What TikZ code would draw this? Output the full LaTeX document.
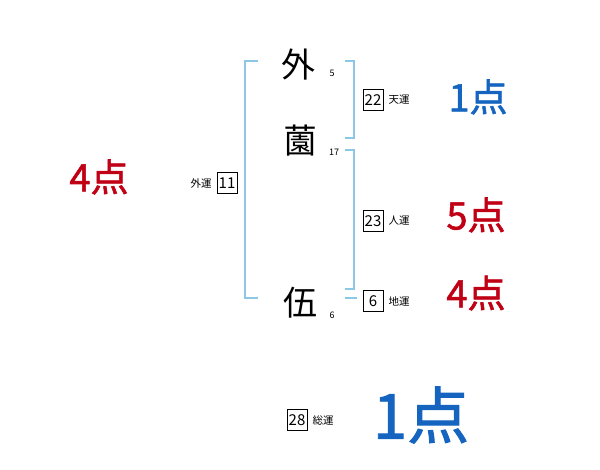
\documentclass[tikz,border=0pt]{standalone}
\usepackage{fontspec}
\newfontfamily\jp{Noto Sans CJK JP}
\newfontfamily\jpheavy[FakeBold=1.5]{Noto Sans CJK JP}
\usetikzlibrary{positioning}
\definecolor{BracketBlue}{HTML}{8CC8E6}
\definecolor{ScoreBlue}{HTML}{1565C0}
\definecolor{ScoreRed}{HTML}{C00014}

\begin{document}
\begin{tikzpicture}[x=1pt,y=-1pt,
  kanji/.style={font=\jp\fontsize{34}{34}\selectfont,inner sep=0pt},
  strokes/.style={font=\jp\fontsize{9}{9}\selectfont,inner sep=0pt},
  numbox/.style={draw,line width=0.6pt,font=\jp\fontsize{15}{15}\selectfont,
                 minimum width=20pt,minimum height=21pt,inner sep=1pt},
  unsei/.style={font=\jp\fontsize{10.5}{10.5}\selectfont,inner sep=0pt},
  score/.style={font=\jpheavy\fontsize{38}{38}\selectfont,inner sep=0pt},
  bigscore/.style={font=\jpheavy\fontsize{62}{62}\selectfont,inner sep=0pt},
  bracket/.style={BracketBlue,line width=1.2pt}
]
\useasboundingbox (0,0) rectangle (600,470);

% name characters and stroke counts
\node[kanji] (c1) at (298,65)  {外};
\node[kanji] (c2) at (300,141) {薗};
\node[kanji] (c3) at (300,303) {伍};
\node[strokes] (s1) at (332,73)  {5};
\node[strokes] (s2) at (334,152) {17};
\node[strokes] (s3) at (332,315) {6};

% brackets
\coordinate (lt) at (258,61);  \coordinate (lb) at (258,298);
\coordinate (at) at (345,61);  \coordinate (ab) at (345,138);
\coordinate (bt) at (345,150); \coordinate (bb) at (345,289);
\coordinate (ct) at (345,298); \coordinate (cb) at (357,298);
\draw[bracket] (lt) -- ++(-13,0) |- (lb);
\draw[bracket] (at) -- ++(9,0) |- (ab);
\draw[bracket] (bt) -- ++(9,0) |- (bb);
\draw[bracket] (ct) -- (cb);

% fortune values
\node[numbox] (ten)  at (373,100) {22};
\node[numbox] (jin)  at (373,221) {23};
\node[numbox] (chi)  at (373,301) {6};
\node[numbox] (gai)  at (227,183) {11};
\node[numbox] (sou)  at (297,420) {28};
\node[unsei,right=5pt of ten] (tenl) {天運};
\node[unsei,right=5pt of jin] (jinl) {人運};
\node[unsei,right=5pt of chi] (chil) {地運};
\node[unsei,left=5pt of gai]  (gail) {外運};
\node[unsei,right=5pt of sou] (soul) {総運};

% scores
\node[score,text=ScoreBlue] (tens) at (478,97)  {1点};
\node[score,text=ScoreRed]  (jins) at (476,215) {5点};
\node[score,text=ScoreRed]  (chis) at (476,293) {4点};
\node[score,text=ScoreRed]  (gais) at (99,177)  {4点};
\node[bigscore,text=ScoreBlue] (sous) at (421,415) {1点};
\end{tikzpicture}
\end{document}
